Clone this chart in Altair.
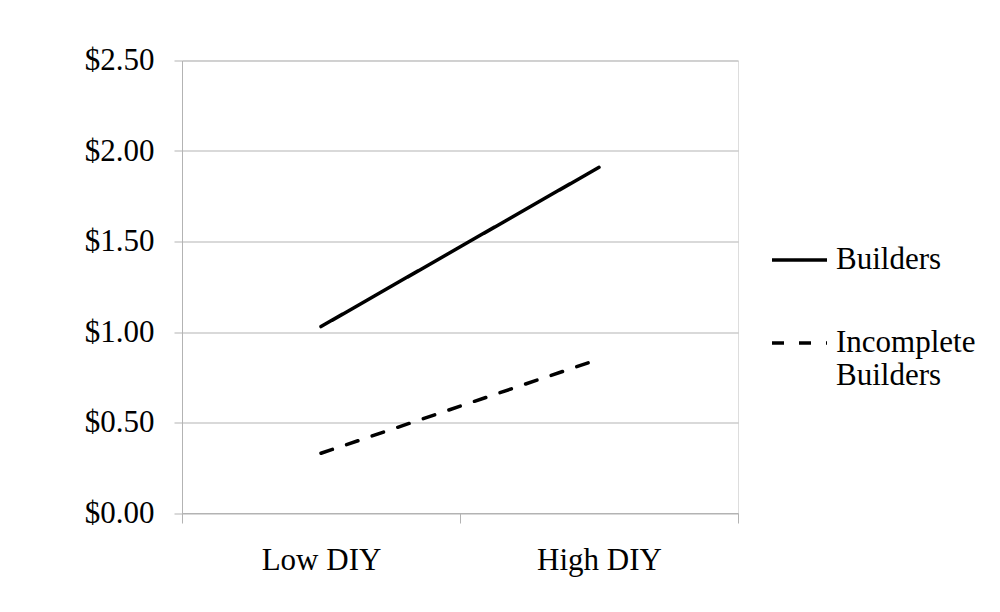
import altair as alt
import pandas as pd

categories = ["Low DIY", "High DIY"]
series = ["Builders", "Incomplete Builders"]
builders = [1.03, 1.91]
incomplete = [0.33, 0.85]
y_ticks = [0, 0.5, 1.0, 1.5, 2.0, 2.5]

rows = []
for c, v in zip(categories, builders):
    rows.append({"level": c, "series": series[0], "value": v})
for c, v in zip(categories, incomplete):
    rows.append({"level": c, "series": series[1], "value": v})
df = pd.DataFrame(rows)

FONT = "Liberation Serif"
GRID = "#b3b3b3"

chart = alt.Chart(df).mark_line(color="black", strokeWidth=3.5, strokeCap="round").encode(
    x=alt.X("level:N", sort=categories,
            scale=alt.Scale(type="band", paddingInner=0, paddingOuter=0),
            axis=alt.Axis(title=None, tickBand="extent", labelAngle=0, grid=False,
                          domainColor=GRID, tickColor=GRID, tickSize=10,
                          labelPadding=22, labelFontSize=31, labelFont=FONT,
                          labelColor="black")),
    y=alt.Y("value:Q", scale=alt.Scale(domain=[0, 2.5]),
            axis=alt.Axis(title=None, values=y_ticks, format="$.2f",
                          gridColor=GRID, domainColor=GRID, tickColor=GRID,
                          tickSize=8, labelPadding=20, labelFontSize=31,
                          labelFont=FONT, labelColor="black")),
    strokeDash=alt.StrokeDash("series:N", sort=series,
                              scale=alt.Scale(domain=series, range=[[1, 0], [12, 15]]),
                              legend=alt.Legend(title=None, orient="none",
                                                legendX=588, legendY=170,
                                                symbolType="stroke", symbolSize=3025,
                                                symbolStrokeWidth=3.5, symbolStrokeColor="black",
                                                labelFont=FONT, labelFontSize=31,
                                                labelColor="black", labelOffset=7,
                                                rowPadding=38, padding=0,
                                                labelExpr="datum.label == 'Incomplete Builders' ? ['Incomplete', 'Builders'] : datum.label")),
    detail="series:N",
).properties(
    width=556, height=452.5,
    autosize=alt.AutoSizeParams(type="none"),
    padding={"left": 174, "top": 52.5, "right": 250, "bottom": 80},
).configure_view(stroke=None).configure(background="white")

chart.save("out.html", embed_options={"renderer": "svg", "actions": False})
